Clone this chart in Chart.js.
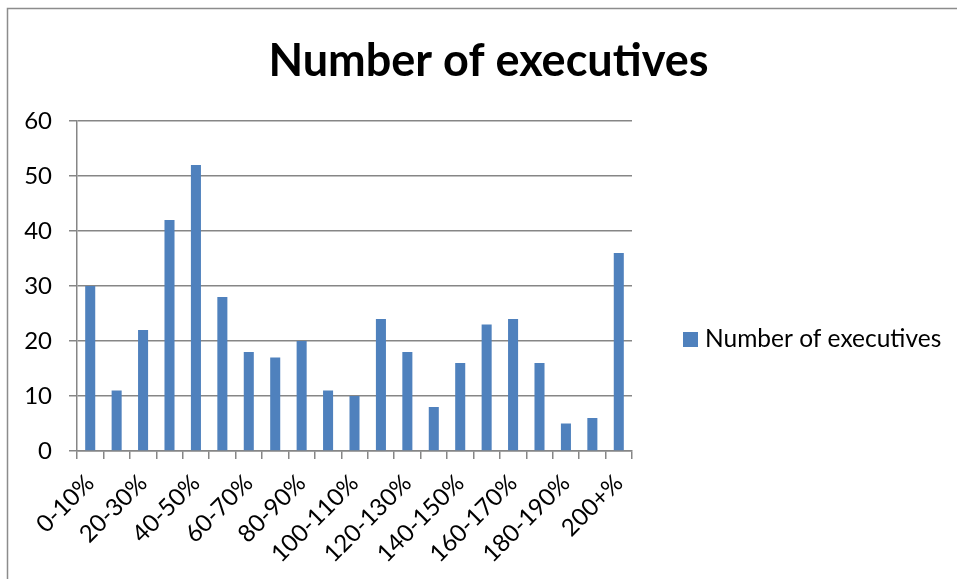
<!DOCTYPE html>
<html>
<head>
<meta charset="utf-8">
<script src="https://cdn.jsdelivr.net/npm/chart.js@4"></script>
<style>
  body { margin: 0; background: #fff; }
  #wrap { position: relative; width: 957px; height: 579px; }
</style>
</head>
<body>
<div id="wrap"><canvas id="chart"></canvas></div>
<script>
// categories and counts
const categories = ["0-10%", "10-20%", "20-30%", "30-40%", "40-50%", "50-60%", "60-70%",
    "70-80%", "80-90%", "90-100%", "100-110%", "110-120%", "120-130%", "130-140%",
    "140-150%", "150-160%", "160-170%", "170-180%", "180-190%", "190-200%", "200+%"];
const executives = [30, 11, 22, 42, 52, 28, 18, 17, 20, 11, 10, 24, 18, 8, 16, 23, 24, 16, 5, 6, 36];
const yTicks = [0, 10, 20, 30, 40, 50, 60];

const fontFamily = "Lato, 'Open Sans', sans-serif";

// grey frame round the chart, cut off at right and bottom like the screenshot
const framePlugin = {
    id: 'frame',
    beforeDraw(chart) {
        const ctx = chart.ctx;
        ctx.save();
        ctx.strokeStyle = "#8c8c8c";
        ctx.lineWidth = 1.5;
        ctx.strokeRect(7.5, 8.5, 1000, 1000);
        ctx.restore();
    }
};

// legend on the right (the built-in one gets squeezed to half the width)
const sideLegend = {
    id: 'sideLegend',
    afterDraw(chart) {
        const ctx = chart.ctx;
        const area = chart.chartArea;
        const ds = chart.data.datasets[0];
        const x = area.right + 51;
        const y = 339;
        ctx.save();
        ctx.fillStyle = ds.backgroundColor;
        ctx.fillRect(x, y - 7, 15, 15);
        ctx.fillStyle = "#000";
        ctx.font = "24.5px " + fontFamily;
        ctx.textBaseline = "middle";
        ctx.fillText(ds.label, x + 22, y);
        ctx.restore();
    }
};

const ctx = document.getElementById("chart").getContext("2d");
new Chart(ctx, {
    type: 'bar',
    data: {
        labels: categories,
        datasets: [{
            label: "Number of executives",
            data: executives,
            backgroundColor: "#4F81BD",
            borderWidth: 0,
            barPercentage: 0.76,
            categoryPercentage: 0.5
        }]
    },
    options: {
        responsive: true,
        maintainAspectRatio: false,
        animation: false,
        layout: { padding: { left: 20, right: 0, top: 0, bottom: 0 } },
        plugins: {
            title: {
                display: true,
                text: "Number of executives",
                color: "#000",
                font: { family: fontFamily, size: 45, weight: 'bold' },
                padding: { top: 34, bottom: 33 }
            },
            legend: { display: false },
            tooltip: { enabled: false }
        },
        scales: {
            x: {
                offset: true,
                afterFit(scale) { scale.height = 128; },
                grid: {
                    offset: true,
                    drawOnChartArea: false,
                    drawTicks: true,
                    tickLength: 8,
                    color: "#868686",
                    lineWidth: 1.5
                },
                border: { color: "#868686", width: 1.5 },
                ticks: {
                    autoSkip: false,
                    maxRotation: 45,
                    minRotation: 45,
                    padding: 10,
                    color: "#000",
                    font: { family: fontFamily, size: 24 },
                    callback: function (value, index) {
                        return index % 2 === 0 ? categories[index] : "";
                    }
                }
            },
            y: {
                min: 0,
                max: 60,
                afterFit(scale) { scale.width = 57; },
                afterBuildTicks(scale) { scale.ticks = yTicks.map(v => ({ value: v })); },
                grid: {
                    color: "#868686",
                    lineWidth: 1.5,
                    tickLength: 8
                },
                border: { color: "#868686", width: 1.5 },
                ticks: {
                    color: "#000",
                    padding: 17,
                    font: { family: fontFamily, size: 24 }
                }
            },
            // empty box on the right that keeps room for the legend
            legendRoom: {
                position: 'right',
                afterFit(scale) { scale.width = 325; },
                grid: { display: false },
                border: { display: false },
                ticks: { display: false }
            }
        }
    },
    plugins: [framePlugin, sideLegend]
});
</script>
</body>
</html>
